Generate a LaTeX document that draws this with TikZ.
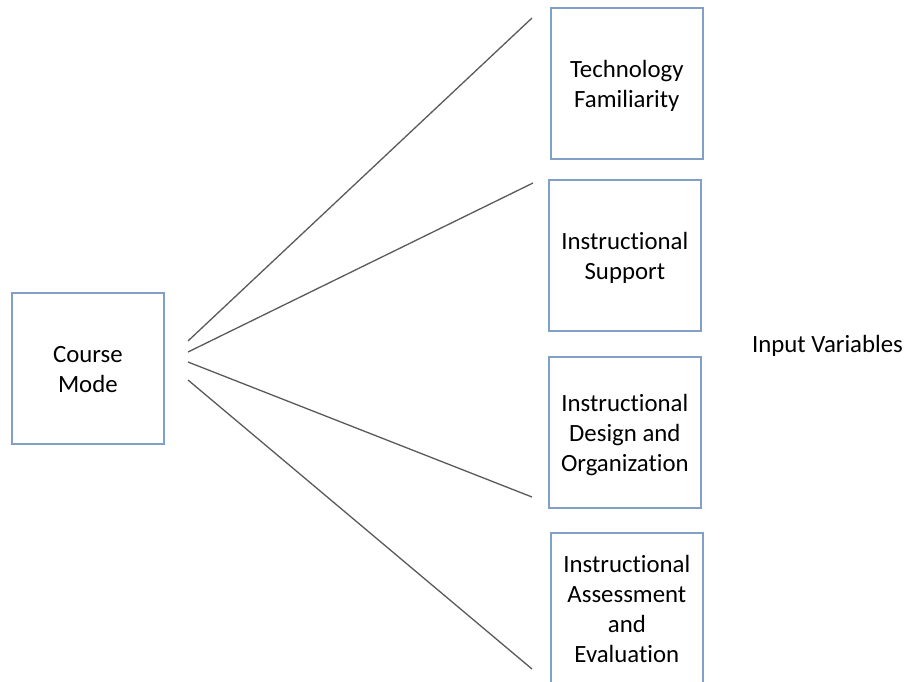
\documentclass[tikz,border=0pt]{standalone}
\usepackage{fontspec}
\setmainfont{Carlito}[Ligatures=NoCommon]
\definecolor{boxblue}{RGB}{128,160,200}
\definecolor{linegray}{RGB}{90,90,90}
\newcommand{\boxtext}[1]{\raisebox{-3pt}[\height][\depth]{\begin{tabular}{@{}c@{}}#1\end{tabular}}}
\begin{document}
\begin{tikzpicture}[x=1pt,y=-1pt,
  varbox/.style={draw=boxblue,line width=1.7pt,rectangle,anchor=north west,
    minimum width=152pt,minimum height=151pt,inner sep=0pt,align=center,
    font=\fontsize{24.8pt}{29.8pt}\selectfont},
  link/.style={draw=linegray,line width=1.3pt},
  lbl/.style={font=\fontsize{24.8pt}{29.8pt}\selectfont,inner sep=0pt,anchor=base}]
\clip (0,0) rectangle (910,681);
\fill[white] (0,0) rectangle (910,681);
\node[varbox] (mode) at (11,292) {\boxtext{Course\\Mode}};
\node[varbox] (tech) at (550,7) {\boxtext{Technology\\Familiarity}};
\node[varbox] (supp) at (548,179) {\boxtext{Instructional\\Support}};
\node[varbox] (design) at (548,356) {\boxtext{Instructional\\Design and\\Organization}};
\node[varbox] (assess) at (550,532) {\boxtext{Instructional\\Assessment\\and\\Evaluation}};
\node[lbl] (input) at (827.5,352) {Input Variables};
\coordinate (s1) at (188,341);
\coordinate (s2) at (188,352);
\coordinate (s3) at (188,362);
\coordinate (s4) at (188,380);
\coordinate (e1) at (532,18);
\coordinate (e2) at (533,183);
\coordinate (e3) at (532,497);
\coordinate (e4) at (532,669);
\draw[link] (s1) -- (e1);
\draw[link] (s2) -- (e2);
\draw[link] (s3) -- (e3);
\draw[link] (s4) -- (e4);
\end{tikzpicture}
\end{document}
